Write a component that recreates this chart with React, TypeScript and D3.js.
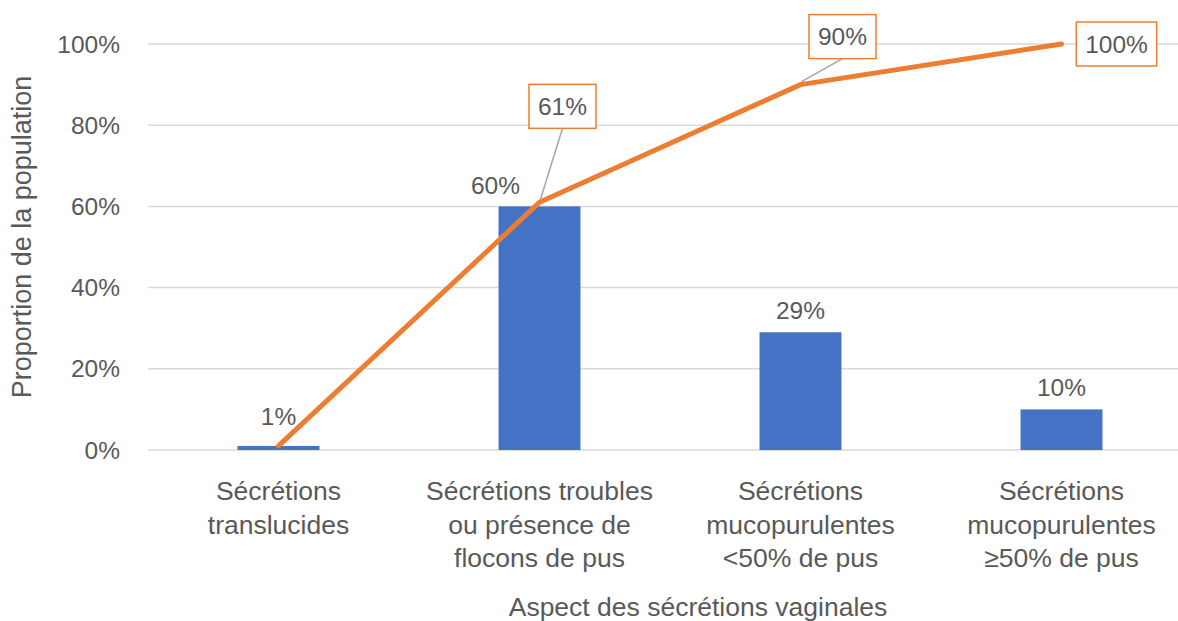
import React from "react";
import * as d3 from "d3";

const categories: string[][] = [
  ["Sécrétions", "translucides"],
  ["Sécrétions troubles", "ou présence de", "flocons de pus"],
  ["Sécrétions", "mucopurulentes", "<50% de pus"],
  ["Sécrétions", "mucopurulentes", "≥50% de pus"],
];
const barValues = [0.01, 0.6, 0.29, 0.1];
const cumulValues = [0.01, 0.61, 0.9, 1.0];
const yTicks = [0, 0.2, 0.4, 0.6, 0.8, 1.0];
// label placement offsets (dx, dy) — layout only
const barLabelOffsets: [number, number][] = [[0, -21], [-44, -12], [0, -13], [0, -13]];
const cumulLabelOffsets: ([number, number] | null)[] = [null, [23, -96], [42, -48], [55, 0]];

const W = 1178;
const H = 621;
const FONT = "'Liberation Sans', Arial, sans-serif";
const TEXT = "#595959";

export default function App() {
  const keys = categories.map((_, i) => String(i));
  const x = d3.scaleBand<string>().domain(keys).range([148, 1192]).paddingInner(0.686).paddingOuter(0.343);
  const y = d3.scaleLinear().domain([0, 1]).range([450, 44]);
  const cx = (i: number) => (x(String(i)) as number) + x.bandwidth() / 2;
  const fmt = d3.format(".0%");
  const line = d3
    .line<number>()
    .x((_, i) => cx(i))
    .y((d) => y(d));
  const charW = (s: string) =>
    s.split("").reduce((a, c) => a + (c === "%" ? 0.889 : 0.556), 0) * 24;

  return (
    <svg
      width={W}
      height={H}
      style={{ position: "absolute", left: 0, top: 0, background: "#fff" }}
      fontFamily={FONT}
    >
      <rect width={W} height={H} fill="#fff" />
      {yTicks.map((t) => (
        <g key={t}>
          <line x1={148} x2={1192} y1={y(t)} y2={y(t)} stroke="#D9D9D9" strokeWidth={1.5} />
          <text x={120} y={y(t)} dy="0.35em" textAnchor="end" fontSize={24.5} fill={TEXT}>
            {fmt(t)}
          </text>
        </g>
      ))}
      {barValues.map((v, i) => (
        <g key={i}>
          <rect
            x={x(String(i))}
            y={y(v)}
            width={x.bandwidth()}
            height={y(0) - y(v)}
            fill="#4472C4"
          />
          <text
            x={cx(i) + barLabelOffsets[i][0]}
            y={y(v) + barLabelOffsets[i][1]}
            textAnchor="middle"
            fontSize={24.5}
            fill={TEXT}
          >
            {fmt(v)}
          </text>
        </g>
      ))}
      <path d={line(cumulValues) || ""} fill="none" stroke="#ED7D31" strokeWidth={5} strokeLinejoin="round" strokeLinecap="round" />
      {cumulValues.map((v, i) => {
        const off = cumulLabelOffsets[i];
        if (!off) return null;
        const px = cx(i);
        const py = y(v);
        const bx = px + off[0];
        const by = py + off[1];
        const label = fmt(v);
        const bw = charW(label) + 19;
        const bh = 44;
        const showLeader = Math.abs(off[1]) > bh / 2;
        return (
          <g key={i}>
            {showLeader && (
              <line x1={px + 1} y1={py - 3} x2={bx} y2={by + bh / 2} stroke="#A5A5A5" strokeWidth={1.5} />
            )}
            <rect x={bx - bw / 2} y={by - bh / 2} width={bw} height={bh} fill="#fff" stroke="#ED7D31" strokeWidth={1.5} />
            <text x={bx} y={by} dy="0.35em" textAnchor="middle" fontSize={24.5} fill={TEXT}>
              {label}
            </text>
          </g>
        );
      })}
      {categories.map((lines, i) => (
        <text key={i} textAnchor="middle" fontSize={26.5} fill={TEXT}>
          {lines.map((l, j) => (
            <tspan key={j} x={cx(i)} y={500 + j * 33.5}>
              {l}
            </tspan>
          ))}
        </text>
      ))}
      <text x={698} y={616} textAnchor="middle" fontSize={26.5} fill={TEXT}>
        Aspect des sécrétions vaginales
      </text>
      <text
        transform={`translate(31,237) rotate(-90)`}
        textAnchor="middle"
        fontSize={27}
        fill={TEXT}
      >
        Proportion de la population
      </text>
    </svg>
  );
}
